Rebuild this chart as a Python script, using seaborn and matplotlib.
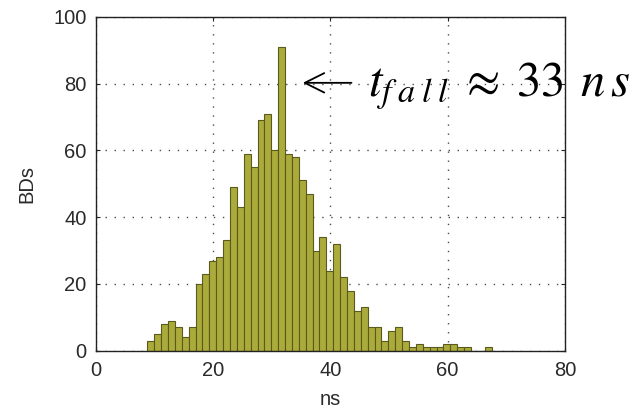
import pandas as pd
import matplotlib
matplotlib.use("Agg")
import matplotlib.pyplot as plt
import seaborn as sns

# Histogram of breakdown fall times: 50 equal bins between the sample min and max
bin_lo = 8.8
bin_hi = 67.5
counts = [3, 5, 8, 9, 7, 4, 7, 20, 23, 27,
          28, 33, 49, 43, 59, 55, 69, 71, 60, 91,
          59, 58, 51, 47, 30, 34, 24, 32, 22, 18,
          12, 13, 7, 7, 3, 6, 7, 3, 1, 2,
          1, 1, 1, 2, 2, 1, 1, 0, 0, 1]
x_ticks = [0, 20, 40, 60, 80]
y_ticks = [0, 20, 40, 60, 80, 100]
x_label = "ns"
y_label = "BDs"
fall_time_label = r"$t_{f\;a\;l\;l}\;\approx\;33\;\,n\,s$"

n_bins = len(counts)
bin_w = (bin_hi - bin_lo) / n_bins
hist_df = pd.DataFrame({
    "t": [bin_lo + (i + 0.5) * bin_w for i in range(n_bins)],
    "n": counts,
})

sns.set_theme(style="white")
plt.rcParams["font.family"] = ["Liberation Sans", "DejaVu Sans"]
plt.rcParams["mathtext.fontset"] = "stix"

fig = plt.figure(figsize=(6.44, 4.08), dpi=100)
ax = fig.add_axes([95.7 / 644, 1 - 350.7 / 408, (565 - 95.7) / 644, (350.7 - 16.7) / 408])

sns.histplot(data=hist_df, x="t", weights="n", bins=n_bins,
             binrange=(bin_lo, bin_hi), ax=ax,
             color="#ABAB3C", edgecolor="#5A5A1C", linewidth=0.8, alpha=1.0)

ax.set_xlim(0, 80)
ax.set_ylim(0, 100)
ax.set_xticks(x_ticks)
ax.set_yticks(y_ticks)
ax.grid(True, linestyle=(0, (1, 5.5)), color="0.3", linewidth=1.0)
ax.set_axisbelow(True)
for s in ax.spines.values():
    s.set_color("#222222")
    s.set_linewidth(1.0)
ax.tick_params(direction="in", length=3, width=0.8, colors="#222222",
               labelsize=14.5, labelcolor="#2a2a2a",
               top=True, right=True, bottom=True, left=True)
ax.tick_params(axis="x", pad=7.5)
ax.tick_params(axis="y", pad=6.5)
ax.set_xlabel(x_label, fontsize=14.5, color="#2a2a2a", labelpad=7)
ax.set_ylabel(y_label, fontsize=14.5, color="#2a2a2a", labelpad=12)

# Arrow pointing at the peak bin, with the fall-time estimate beside it
ax.annotate("", xy=(35.3, 80.2), xytext=(43.6, 80.2),
            arrowprops=dict(arrowstyle="->,head_length=0.7,head_width=0.35",
                            lw=1.3, color="black", mutation_scale=20,
                            shrinkA=0, shrinkB=0),
            annotation_clip=False)
fig.text(368 / 644, 1 - 96.7 / 408, fall_time_label, fontsize=35,
         va="baseline", ha="left", color="black")

fig.savefig("out.png", dpi=100, facecolor="white")
